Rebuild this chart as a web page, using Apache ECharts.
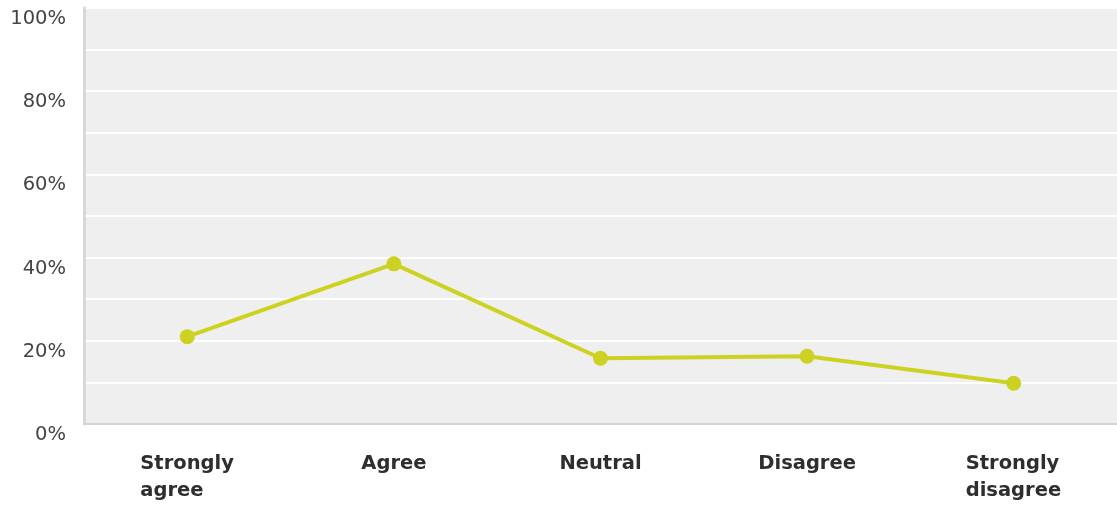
<!DOCTYPE html>
<html>
<head>
<meta charset="utf-8">
<script src="https://cdn.jsdelivr.net/npm/echarts@6/dist/echarts.min.js"></script>
<style>
  html, body { margin: 0; padding: 0; background: #ffffff; }
  #chart { width: 1117px; height: 506px; }
</style>
</head>
<body>
<div id="chart"></div>
<script>
// Survey responses, share of respondents per answer
const categories = ['Strongly agree', 'Agree', 'Neutral', 'Disagree', 'Strongly disagree'];
const shares = [21, 38.5, 15.8, 16.3, 9.8];
const yTicks = [0, 20, 40, 60, 80, 100];

const FONT = '"DejaVu Sans", Verdana, sans-serif';
const CAT_SIZE = 19.5;

// measure a line so multi-line labels can be left-aligned inside a centred block
const measureCtx = document.createElement('canvas').getContext('2d');
measureCtx.font = 'bold ' + CAT_SIZE + 'px ' + FONT;
function textWidth(s) { return Math.ceil(measureCtx.measureText(s).width); }

const richStyles = {};
function catLabel(name) {
  const parts = name.split(' ');
  if (parts.length < 2) return name;
  const w = Math.max.apply(null, parts.map(textWidth));
  const key = 'w' + w;
  richStyles[key] = {
    width: w, align: 'left', fontFamily: FONT, fontWeight: 'bold',
    fontSize: CAT_SIZE, lineHeight: 27, color: '#2e2e2e'
  };
  return parts.map(p => '{' + key + '|' + p + '}').join('\n');
}
categories.forEach(catLabel);

const chart = echarts.init(document.getElementById('chart'), null, { renderer: 'canvas' });
chart.setOption({
  animation: false,
  grid: {
    left: 84, right: 0, top: 8, bottom: 82,
    show: true, backgroundColor: '#efefef', borderWidth: 0
  },
  xAxis: {
    type: 'category',
    data: categories,
    boundaryGap: true,
    axisLine: { show: true, lineStyle: { color: '#d4d4d4', width: 2 } },
    axisTick: { show: false },
    splitLine: { show: false },
    axisLabel: {
      interval: 0,
      margin: 26,
      fontFamily: FONT,
      fontWeight: 'bold',
      fontSize: CAT_SIZE,
      lineHeight: 27,
      color: '#2e2e2e',
      formatter: catLabel,
      rich: richStyles
    }
  },
  yAxis: {
    type: 'value',
    min: 0, max: 100, interval: 10,
    axisLine: { show: true, lineStyle: { color: '#d8d8d8', width: 3 } },
    axisTick: { show: false },
    splitLine: { show: true, lineStyle: { color: '#ffffff', width: 2 } },
    axisLabel: {
      margin: 18,
      fontFamily: FONT,
      fontSize: 19.5,
      color: '#444444',
      verticalAlign: 'top',
      lineHeight: 22,
      formatter: v => (yTicks.indexOf(v) >= 0 ? v + '%' : '')
    }
  },
  series: [{
    type: 'line',
    data: shares,
    symbol: 'circle',
    symbolSize: 15,
    itemStyle: { color: '#cdd222' },
    lineStyle: { color: '#cdd222', width: 4 }
  }]
});
</script>
</body>
</html>
